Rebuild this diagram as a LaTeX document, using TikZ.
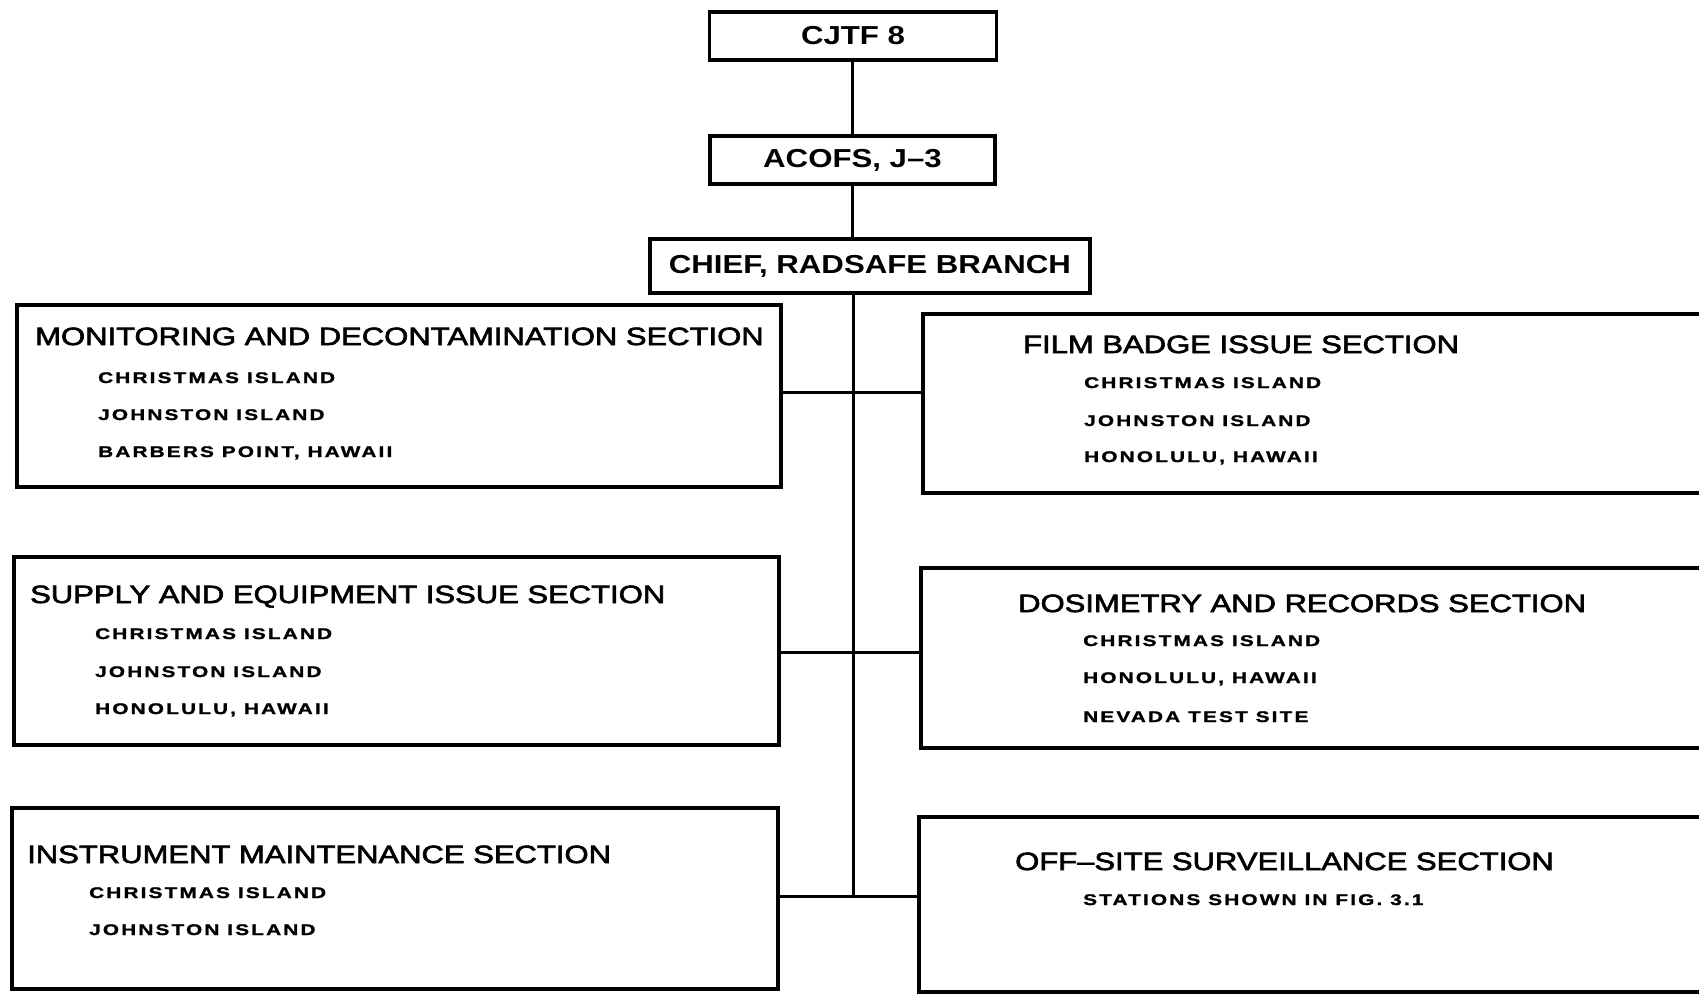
\documentclass[tikz,border=0pt]{standalone}
\usepackage{fontspec}
\setmainfont{Liberation Sans}
\newfontfamily\topfont{Liberation Sans}[FakeStretch=1.2]
\newfontfamily\secfont{Liberation Sans}[FakeStretch=1.24,FakeBold=2.5]
\newfontfamily\locfont{Liberation Sans}[FakeStretch=1.35,LetterSpace=14,FakeBold=1.5]
\begin{document}
\begin{tikzpicture}[x=1pt,y=-1pt,
  boxstyle/.style={draw=black,line width=3.4pt,rectangle,inner sep=0pt},
  topbox/.style={boxstyle,font=\topfont\bfseries\fontsize{26}{30}\selectfont},
  sectitle/.style={anchor=base west,inner sep=0pt,font=\secfont\fontsize{25}{30}\selectfont},
  loc/.style={anchor=base west,inner sep=0pt,font=\locfont\bfseries\fontsize{15.4}{18}\selectfont},
  link/.style={draw=black,line width=3pt}]
\useasboundingbox (0,0) rectangle (1699,1001);
\fill[white] (0,0) rectangle (1699,1001);
\clip (0,0) rectangle (1699,1001);

% top chain
\node[topbox,minimum width=287pt,minimum height=48pt] (cjtf) at (853,36) {CJTF 8};
\node[topbox,minimum width=285pt,minimum height=48pt] (acofs) at (852.5,160) {ACOFS, J–3};
\node[topbox,minimum width=440pt,minimum height=54pt] (chief) at (870,266) {CHIEF, RADSAFE BRANCH};

% section boxes
\node[boxstyle,minimum width=764pt,minimum height=182pt] (mon) at (399,396) {};
\node[boxstyle,minimum width=787pt,minimum height=179pt] (film) at (1316.5,403.5) {};
\node[boxstyle,minimum width=765pt,minimum height=188pt] (supply) at (396.5,651) {};
\node[boxstyle,minimum width=789pt,minimum height=180pt] (dos) at (1315.5,658) {};
\node[boxstyle,minimum width=766pt,minimum height=181pt] (instr) at (395,898.5) {};
\node[boxstyle,minimum width=791pt,minimum height=175pt] (off) at (1314.5,904.5) {};

% junctions on the trunk
\coordinate (j1) at (853,392);
\coordinate (j2) at (853,652);
\coordinate (j3) at (853,896);

% connectors
\draw[link] (cjtf.south) -- (acofs.south |- cjtf.south) -- (acofs.north);
\draw[link] (acofs.south) -- (acofs.south |- chief.north);
\draw[link] (chief.south -| j3) -- (j3);
\draw[link] (mon.east |- j1) -- (j1) -- (film.west |- j1);
\draw[link] (supply.east |- j2) -- (j2) -- (dos.west |- j2);
\draw[link] (instr.east |- j3) -- (j3) -- (off.west |- j3);

% texts
\node[sectitle] (t1) at (35,345) {MONITORING AND DECONTAMINATION SECTION};
\node[loc] (t1a) at (98,383) {CHRISTMAS ISLAND};
\node[loc] (t1b) at (98,420) {JOHNSTON ISLAND};
\node[loc] (t1c) at (98,457) {BARBERS POINT, HAWAII};

\node[sectitle] (t2) at (1023,353) {FILM BADGE ISSUE SECTION};
\node[loc] (t2a) at (1084,388) {CHRISTMAS ISLAND};
\node[loc] (t2b) at (1084,426) {JOHNSTON ISLAND};
\node[loc] (t2c) at (1084,462) {HONOLULU, HAWAII};

\node[sectitle] (t3) at (30,603) {SUPPLY AND EQUIPMENT ISSUE SECTION};
\node[loc] (t3a) at (95,639) {CHRISTMAS ISLAND};
\node[loc] (t3b) at (95,677) {JOHNSTON ISLAND};
\node[loc] (t3c) at (95,714) {HONOLULU, HAWAII};

\node[sectitle] (t4) at (1018,612) {DOSIMETRY AND RECORDS SECTION};
\node[loc] (t4a) at (1083,646) {CHRISTMAS ISLAND};
\node[loc] (t4b) at (1083,683) {HONOLULU, HAWAII};
\node[loc] (t4c) at (1083,722) {NEVADA TEST SITE};

\node[sectitle] (t5) at (27,863) {INSTRUMENT MAINTENANCE SECTION};
\node[loc] (t5a) at (89,898) {CHRISTMAS ISLAND};
\node[loc] (t5b) at (89,935) {JOHNSTON ISLAND};

\node[sectitle] (t6) at (1015,870) {OFF–SITE SURVEILLANCE SECTION};
\node[loc] (t6a) at (1083,905) {STATIONS SHOWN IN FIG. 3.1};
\end{tikzpicture}
\end{document}
